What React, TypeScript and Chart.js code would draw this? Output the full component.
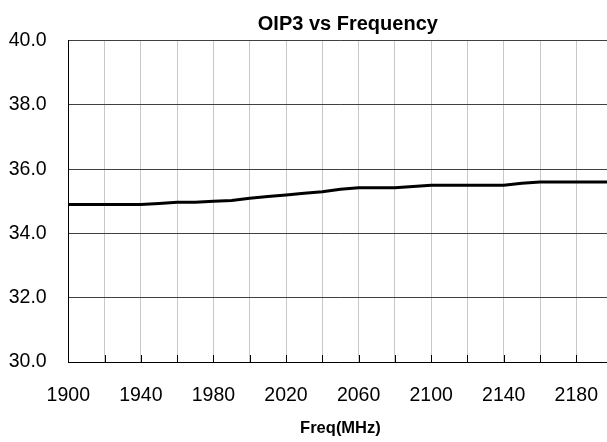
import React, { useEffect, useRef } from "react";
import { Chart, registerables } from "chart.js";

Chart.register(...registerables);

const chartTitle = "OIP3 vs Frequency";
const xAxisTitle = "Freq(MHz)";
const freqs = [
  1900, 1910, 1920, 1930, 1940, 1950, 1960, 1970, 1980, 1990, 2000, 2010,
  2020, 2030, 2040, 2050, 2060, 2070, 2080, 2090, 2100, 2110, 2120, 2130,
  2140, 2150, 2160, 2170, 2180, 2190, 2200,
];
const oip3 = [
  34.9, 34.9, 34.9, 34.9, 34.9, 34.93, 34.97, 34.97, 35.0, 35.03, 35.1, 35.15,
  35.2, 35.25, 35.3, 35.38, 35.42, 35.42, 35.42, 35.46, 35.5, 35.5, 35.5, 35.5,
  35.5, 35.56, 35.6, 35.6, 35.6, 35.6, 35.6,
];
const xMin = 1900;
const xMax = 2200;
const xGridStep = 20;
const xLabelStep = 40;
const yMin = 30;
const yMax = 40;
const yStep = 2;

const FONT = '"Liberation Sans", Arial, sans-serif';
const CANVAS_W = 615;
const CANVAS_H = 442;

export default function App() {
  const ref = useRef<HTMLCanvasElement | null>(null);

  useEffect(() => {
    if (!ref.current) return;

    const titlePlugin = {
      id: "customTitle",
      afterDraw(chart: any) {
        const { ctx, chartArea } = chart;
        ctx.save();
        ctx.font = `bold 20px ${FONT}`;
        ctx.fillStyle = "#000";
        ctx.textAlign = "center";
        ctx.textBaseline = "alphabetic";
        ctx.fillText(chartTitle, (chartArea.left + chartArea.right) / 2 + 7.4, 29.5);
        ctx.restore();
      },
    };

    const innerTicks = {
      id: "innerTicks",
      afterDraw(chart: any) {
        const { ctx, chartArea, scales } = chart;
        const xs = scales.x;
        ctx.save();
        ctx.strokeStyle = "#000";
        ctx.lineWidth = 1;
        xs.ticks.forEach((t: any) => {
          const px = Math.round(xs.getPixelForValue(t.value)) + 0.5;
          ctx.beginPath();
          ctx.moveTo(px, chartArea.bottom - 7);
          ctx.lineTo(px, chartArea.bottom);
          ctx.stroke();
        });
        ctx.restore();
      },
    };

    const chart = new Chart(ref.current, {
      type: "line",
      data: {
        datasets: [
          {
            data: freqs.map((f, i) => ({ x: f, y: oip3[i] })),
            borderColor: "#000",
            borderWidth: 3,
            pointRadius: 0,
            tension: 0,
            fill: false,
          },
        ],
      },
      options: {
        animation: false,
        responsive: false,
        devicePixelRatio: 1,
        layout: { padding: { top: 40.7, left: 0, right: 2.4, bottom: 0 } },
        plugins: { legend: { display: false }, title: { display: false }, tooltip: { enabled: false } },
        scales: {
          x: {
            type: "linear",
            min: xMin,
            max: xMax,
            ticks: {
              stepSize: xGridStep,
              autoSkip: false,
              maxRotation: 0,
              minRotation: 0,
              padding: 22,
              color: "#000",
              font: { family: FONT, size: 19.5 },
              callback: (v: any) =>
                (v - xMin) % xLabelStep === 0 && v < xMax ? String(v) : "",
            },
            grid: { color: "#c8c8c8", lineWidth: 1, drawTicks: false },
            border: { color: "#000", width: 1 },
            title: {
              display: true,
              text: xAxisTitle,
              color: "#000",
              font: { family: FONT, size: 16.5, weight: "bold" },
              padding: { top: 14, bottom: 4 },
            },
            afterFit: (s: any) => {
              s.height = CANVAS_H - 362;
              s.paddingLeft = 0;
              s.paddingRight = 0;
            },
          },
          y: {
            min: yMin,
            max: yMax,
            ticks: {
              stepSize: yStep,
              padding: 21.6,
              color: "#000",
              font: { family: FONT, size: 19.5 },
              callback: (v: any) => Number(v).toFixed(1),
            },
            grid: { color: "#404040", lineWidth: 1, drawTicks: false },
            border: { color: "#000", width: 1 },
            afterFit: (s: any) => {
              s.width = 68.3;
            },
          },
        },
      },
      plugins: [titlePlugin, innerTicks],
    });

    return () => chart.destroy();
  }, []);

  return (
    <div
      style={{
        position: "fixed",
        left: 0,
        top: 0,
        width: 607,
        height: 442,
        overflow: "hidden",
        background: "#fff",
      }}
    >
      <canvas ref={ref} width={CANVAS_W} height={CANVAS_H} style={{ display: "block" }} />
    </div>
  );
}
